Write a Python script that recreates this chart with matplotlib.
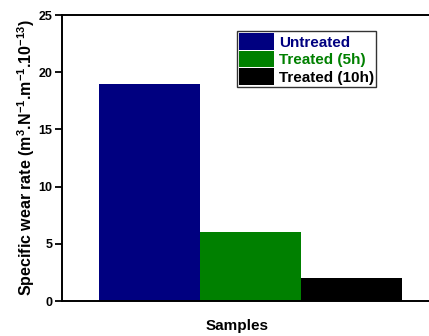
import matplotlib
matplotlib.use("Agg")
import matplotlib.pyplot as plt

plt.rcParams['font.family'] = ['Liberation Sans', 'DejaVu Sans']
plt.rcParams['font.weight'] = 'bold'
plt.rcParams['mathtext.fontset'] = 'custom'
plt.rcParams['mathtext.rm'] = 'Liberation Sans:bold'
plt.rcParams['mathtext.bf'] = 'Liberation Sans:bold'
plt.rcParams['mathtext.default'] = 'bf'

labels = ['Untreated', 'Treated (5h)', 'Treated (10h)']
wear_rate = [19, 6, 2]
colors = ['#000080', '#008000', '#000000']
yticks = [0, 5, 10, 15, 20, 25]

fig = plt.figure(figsize=(4.29, 3.36), dpi=100)
# axes runs off the right edge like the original crop
ax = fig.add_axes([62 / 429, 35 / 336, 370 / 429, 286 / 336])

bars = ax.bar(range(len(labels)), wear_rate, width=1.0, color=colors)

ax.set_xlim(-0.866, 2.80)
ax.set_ylim(0, 25)
ax.set_yticks(yticks)
ax.set_xticks([])
ax.tick_params(axis='y', direction='out', length=5, width=1.3, labelsize=9,
               pad=2)
for lab in ax.get_yticklabels():
    lab.set_fontweight('bold')
for side in ['left', 'top', 'bottom', 'right']:
    ax.spines[side].set_linewidth(1.4)

ax.set_ylabel('Specific wear rate (m$^{3}$.N$^{-1}$.m$^{-1}$.10$^{-13}$)',
              fontsize=11.5, fontweight='bold', labelpad=1)
fig.text(237 / 429, 1 - 326 / 336, 'Samples', ha='center', va='center',
         fontsize=11, fontweight='bold')

leg = ax.legend(bars, labels, loc='upper left',
                bbox_to_anchor=((237 - 62) / 370, (301 - 31) / 286),
                fontsize=11, frameon=True, fancybox=False, edgecolor='black',
                handlelength=2.3, handleheight=1.3, labelspacing=0.05,
                handletextpad=0.3, borderpad=0.15, borderaxespad=0)
leg.get_frame().set_linewidth(1.0)
for txt, c in zip(leg.get_texts(), colors):
    txt.set_color(c)
    txt.set_fontweight('bold')

fig.savefig('out.png', dpi=100)
